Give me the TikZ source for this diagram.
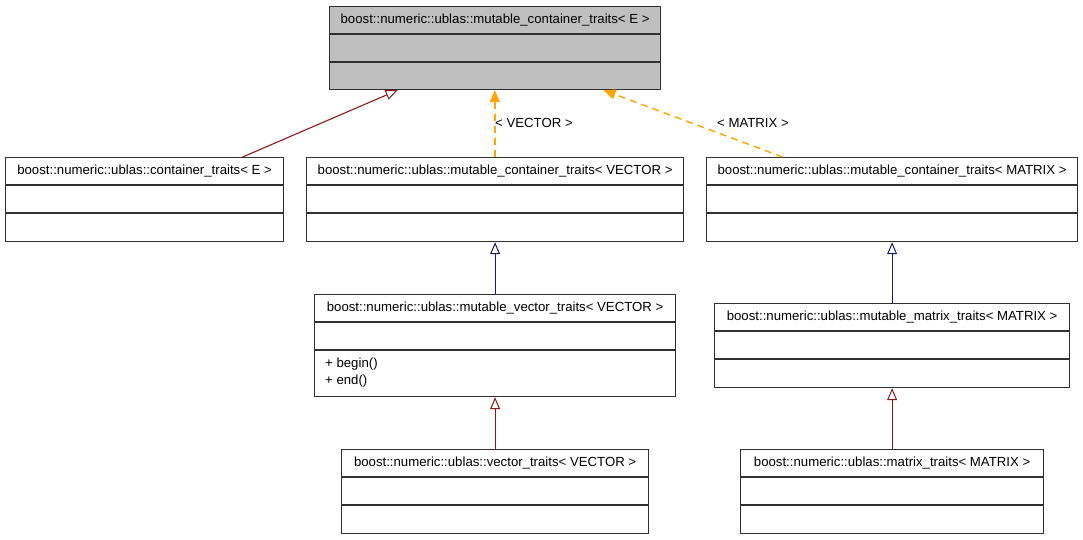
\documentclass[tikz,border=0pt]{standalone}
\usepackage{fontspec}
\setmainfont{Liberation Sans}
\usetikzlibrary{arrows.meta,calc}
\definecolor{inhred}{HTML}{8B1A1A}
\definecolor{inhblue}{HTML}{191970}
\definecolor{tmplorange}{HTML}{FFA500}
\definecolor{boxgray}{HTML}{BFBFBF}
\definecolor{boxline}{HTML}{303030}
\begin{document}
\begin{tikzpicture}[x=1pt,y=-1pt,
  classbox/.style={draw=boxline, line width=1.2pt, fill=white, rectangle, inner sep=0pt, anchor=north west},
  titletxt/.style={font=\fontsize{13.2}{15}\selectfont, inner sep=0pt, anchor=center},
  methtxt/.style={font=\fontsize{13.2}{15}\selectfont, inner sep=0pt, anchor=west},
  sep/.style={draw=boxline, line width=1.2pt},
  inhr/.style={draw=inhred, line width=1.1pt, -{Triangle[open, length=12pt, width=10pt, line width=1pt]}},
  inhb/.style={draw=inhblue, line width=1.1pt, -{Triangle[open, length=12pt, width=10pt, line width=1pt]}},
  tmpl/.style={draw=tmplorange, line width=1.4pt, dash pattern=on 7pt off 5pt, -{Triangle[length=12pt, width=10pt]}},
  lbl/.style={font=\fontsize{13.2}{15}\selectfont, inner sep=0pt}
]
\useasboundingbox (0,0) rectangle (1083,539);

% top class
\node[classbox, fill=boxgray, minimum width=331pt, minimum height=83pt] (top) at (329,6) {};
\node[titletxt] (topt) at ($(top.north)+(0,14)$) {boost::numeric::ublas::mutable\_container\_traits< E >};
\draw[sep] ([yshift=-28pt]top.north west) -- ([yshift=-28pt]top.north east);
\draw[sep] ([yshift=-56pt]top.north west) -- ([yshift=-56pt]top.north east);

% container_traits
\node[classbox, minimum width=278pt, minimum height=84pt] (ct) at (5,157) {};
\node[titletxt] (ctt) at ($(ct.north)+(0,14)$) {boost::numeric::ublas::container\_traits< E >};
\draw[sep] ([yshift=-28pt]ct.north west) -- ([yshift=-28pt]ct.north east);
\draw[sep] ([yshift=-56pt]ct.north west) -- ([yshift=-56pt]ct.north east);

% mutable_container_traits<VECTOR>
\node[classbox, minimum width=377pt, minimum height=84pt] (mcv) at (306,157) {};
\node[titletxt] (mcvt) at ($(mcv.north)+(0,14)$) {boost::numeric::ublas::mutable\_container\_traits< VECTOR >};
\draw[sep] ([yshift=-28pt]mcv.north west) -- ([yshift=-28pt]mcv.north east);
\draw[sep] ([yshift=-56pt]mcv.north west) -- ([yshift=-56pt]mcv.north east);

% mutable_container_traits<MATRIX>
\node[classbox, minimum width=371pt, minimum height=84pt] (mcm) at (706,157) {};
\node[titletxt] (mcmt) at ($(mcm.north)+(0,14)$) {boost::numeric::ublas::mutable\_container\_traits< MATRIX >};
\draw[sep] ([yshift=-28pt]mcm.north west) -- ([yshift=-28pt]mcm.north east);
\draw[sep] ([yshift=-56pt]mcm.north west) -- ([yshift=-56pt]mcm.north east);

% mutable_vector_traits
\node[classbox, minimum width=361pt, minimum height=102pt] (mvt) at (314,294) {};
\node[titletxt] (mvtt) at ($(mvt.north)+(0,14)$) {boost::numeric::ublas::mutable\_vector\_traits< VECTOR >};
\draw[sep] ([yshift=-28pt]mvt.north west) -- ([yshift=-28pt]mvt.north east);
\draw[sep] ([yshift=-56pt]mvt.north west) -- ([yshift=-56pt]mvt.north east);
\node[methtxt] (mvtm1) at ($(mvt.north west)+(11,70)$) {+ begin()};
\node[methtxt] (mvtm2) at ($(mvt.north west)+(11,87)$) {+ end()};

% mutable_matrix_traits
\node[classbox, minimum width=355pt, minimum height=84pt] (mmt) at (714,303) {};
\node[titletxt] (mmtt) at ($(mmt.north)+(0,14)$) {boost::numeric::ublas::mutable\_matrix\_traits< MATRIX >};
\draw[sep] ([yshift=-28pt]mmt.north west) -- ([yshift=-28pt]mmt.north east);
\draw[sep] ([yshift=-56pt]mmt.north west) -- ([yshift=-56pt]mmt.north east);

% vector_traits
\node[classbox, minimum width=307pt, minimum height=84pt] (vt) at (341,449) {};
\node[titletxt] (vtt) at ($(vt.north)+(0,14)$) {boost::numeric::ublas::vector\_traits< VECTOR >};
\draw[sep] ([yshift=-28pt]vt.north west) -- ([yshift=-28pt]vt.north east);
\draw[sep] ([yshift=-56pt]vt.north west) -- ([yshift=-56pt]vt.north east);

% matrix_traits
\node[classbox, minimum width=303pt, minimum height=84pt] (mt) at (740,449) {};
\node[titletxt] (mtt) at ($(mt.north)+(0,14)$) {boost::numeric::ublas::matrix\_traits< MATRIX >};
\draw[sep] ([yshift=-28pt]mt.north west) -- ([yshift=-28pt]mt.north east);
\draw[sep] ([yshift=-56pt]mt.north west) -- ([yshift=-56pt]mt.north east);

% connectors
\draw[inhr] ([xshift=98pt]ct.north) -- ([xshift=-97.5pt]top.south);
\draw[tmpl] ([xshift=-0.3pt]mcv.north) -- ([xshift=-0.3pt]top.south);
\draw[tmpl] ([xshift=-109.5pt]mcm.north) -- ([xshift=108.5pt]top.south);
\draw[inhb] (mvt.north) -- (mcv.south);
\draw[inhb] (mmt.north) -- (mcm.south);
\draw[inhr] (vt.north) -- (mvt.south);
\draw[inhr] (mt.north) -- (mmt.south);

% labels
\node[lbl, anchor=west] (lv) at (495,123) {< VECTOR >};
\node[lbl] (lm) at (753,123) {< MATRIX >};
\end{tikzpicture}
\end{document}
